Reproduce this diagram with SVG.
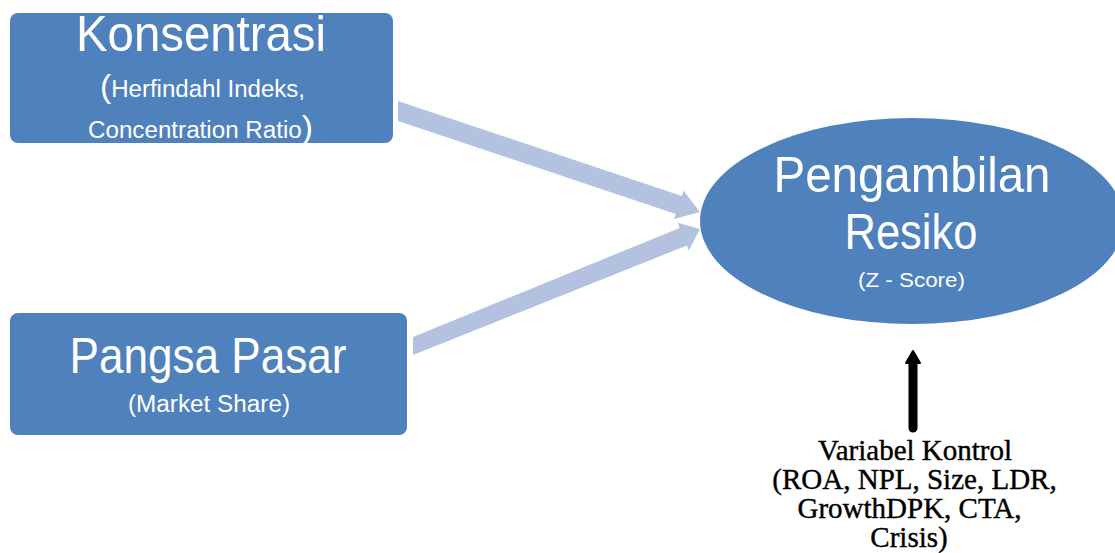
<svg xmlns="http://www.w3.org/2000/svg" width="1115" height="553" viewBox="0 0 1115 553">
<style>
.node{fill:#4F81BD;}
.t{fill:#fff;font-family:"Liberation Sans",Arial,sans-serif;text-anchor:middle;}
.big{font-size:50px;}
.small{font-size:23px;}
.conn{fill:#B3C3DF;}
.ctl{font-family:"Liberation Serif","Times New Roman",serif;font-size:29px;fill:#000;text-anchor:middle;stroke:#000;stroke-width:0.4px;}
</style>
<rect width="1115" height="553" fill="#fff"/>
<g id="connectors">
<polygon class="conn" points="398,101 401,102 681.8,195.9 683.6,190.7 700,212 674,219.1 675.8,213.9 398,121"/>
<polygon class="conn" points="413,337 679.7,227.9 677.7,222.8 700,229 688.9,250.6 686.9,245.5 413,355"/>
<g id="control-arrow">
<line x1="913" y1="428" x2="913" y2="360" stroke="#000" stroke-width="9" stroke-linecap="round"/>
<polygon points="906,363 913,351 920,363" fill="#000" stroke="#000" stroke-width="2" stroke-linejoin="round"/>
</g>
</g>
<g id="konsentrasi">
<rect class="node" x="10" y="13" width="383" height="130" rx="8"/>
<text class="t big" x="201" y="51" textLength="250" lengthAdjust="spacingAndGlyphs">Konsentrasi</text>
<text class="t small" x="202.5" y="97" textLength="205" lengthAdjust="spacingAndGlyphs"><tspan font-size="32">(</tspan>Herfindahl Indeks,</text>
<text class="t small" x="200.5" y="138" textLength="225" lengthAdjust="spacingAndGlyphs">Concentration Ratio<tspan font-size="32">)</tspan></text>
</g>
<g id="pangsa">
<rect class="node" x="10" y="313" width="397" height="122" rx="8"/>
<text class="t big" x="208" y="373" textLength="277" lengthAdjust="spacingAndGlyphs">Pangsa Pasar</text>
<text class="t small" x="209" y="412" textLength="162" lengthAdjust="spacingAndGlyphs">(Market Share)</text>
</g>
<g id="risiko">
<ellipse class="node" cx="912" cy="221" rx="212" ry="103"/>
<text class="t big" x="912" y="192" textLength="277" lengthAdjust="spacingAndGlyphs">Pengambilan</text>
<text class="t big" x="911" y="249" textLength="133" lengthAdjust="spacingAndGlyphs">Resiko</text>
<text class="t" x="911.5" y="287" font-size="21" textLength="107" lengthAdjust="spacingAndGlyphs">(Z - Score)</text>
</g>
<g id="kontrol">
<text class="ctl" x="915" y="460">Variabel Kontrol</text>
<text class="ctl" x="914.5" y="489">(ROA, NPL, Size, LDR,</text>
<text class="ctl" x="909.5" y="518">GrowthDPK, CTA,</text>
<text class="ctl" x="909" y="547">Crisis)</text>
</g>
</svg>
